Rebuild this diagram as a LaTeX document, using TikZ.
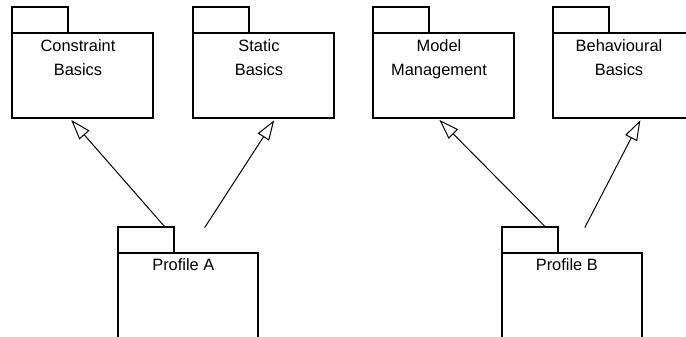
\documentclass[tikz,border=0pt]{standalone}
\usepackage{fontspec}
\setmainfont{Liberation Sans}
\usetikzlibrary{positioning,arrows.meta,calc}

\tikzset{
		pkgbody/.style={draw, line width=1.5pt, outer sep=0pt, inner sep=0pt, minimum width=105.75pt, minimum height=63.75pt},
		pkgtab/.style={draw, line width=1.5pt, outer sep=0pt, inner sep=0pt, minimum width=42pt, minimum height=19.5pt},
		pkgtext/.style={anchor=north, inner sep=0pt, align=center, font=\fontsize{12.3}{17.5}\selectfont},
		gen/.style={-{Triangle[open, length=15pt, width=10pt]}, line width=0.75pt, shorten >=2pt}
	}

\begin{document}
\begin{tikzpicture}[x=0.75pt, y=-0.75pt]

\useasboundingbox (0,0) rectangle (686,336);
\clip (0,0) rectangle (686,336);

\node (cb) at (82.5,75.5) [pkgbody] {};
\node (cbtab) [pkgtab, above right=0pt of cb.north west] {};
\node (cbtext) at (cb.north west) [pkgtext, xshift=49.5pt, yshift=-5pt] {Constraint\\Basics};

\node (sb) at (263.5,75.5) [pkgbody] {};
\node (sbtab) [pkgtab, above right=0pt of sb.north west] {};
\node (sbtext) at (sb.north west) [pkgtext, xshift=49.5pt, yshift=-5pt] {Static\\Basics};

\node (mm) at (443.5,75.5) [pkgbody] {};
\node (mmtab) [pkgtab, above right=0pt of mm.north west] {};
\node (mmtext) at (mm.north west) [pkgtext, xshift=49.5pt, yshift=-5pt] {Model\\Management};

\node (bb) at (623.5,75.5) [pkgbody] {};
\node (bbtab) [pkgtab, above right=0pt of bb.north west] {};
\node (bbtext) at (bb.north west) [pkgtext, xshift=49.5pt, yshift=-5pt] {Behavioural\\Basics};

\node (pa) at (188,303.3) [pkgbody, minimum width=105pt, minimum height=75pt] {};
\node (patab) [pkgtab, above right=0pt of pa.north west] {};
\node (patext) at (pa.north west) [pkgtext, xshift=49pt, yshift=-3.5pt] {Profile A};

\node (pb) at (571.5,303.3) [pkgbody, minimum width=105pt, minimum height=75pt] {};
\node (pbtab) [pkgtab, above right=0pt of pb.north west] {};
\node (pbtext) at (pb.north west) [pkgtext, xshift=49pt, yshift=-3.5pt] {Profile B};


\draw [gen] ($(pa.north)!0.19!(cb.253)$) -- (cb.253);
\draw [gen] ($(pa.north)!0.19!(sb.286)$) -- (sb.286);
\draw [gen] ($(pb.north)!0.19!(mm.262)$) -- (mm.262);
\draw [gen] ($(pb.north)!0.19!(bb.293)$) -- (bb.293);

\end{tikzpicture}
\end{document}
